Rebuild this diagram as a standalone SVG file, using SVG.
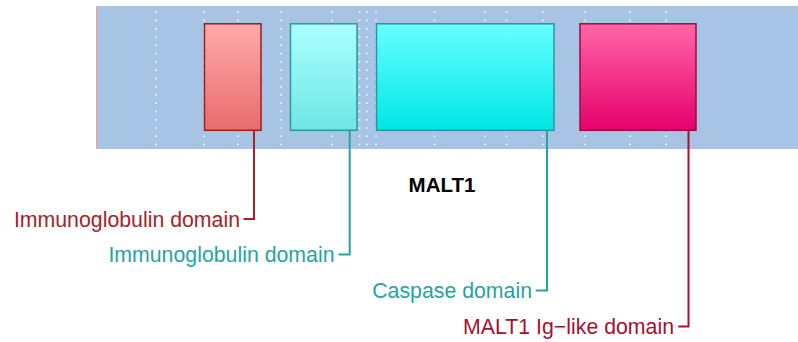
<svg xmlns="http://www.w3.org/2000/svg" width="798" height="342" viewBox="0 0 798 342">
<defs>
<linearGradient id="gRed" x1="0" y1="0" x2="0" y2="1"><stop offset="0" stop-color="#ffabab"/><stop offset="1" stop-color="#e86c6c"/></linearGradient>
<linearGradient id="gLc" x1="0" y1="0" x2="0" y2="1"><stop offset="0" stop-color="#abffff"/><stop offset="1" stop-color="#6ee6e6"/></linearGradient>
<linearGradient id="gCy" x1="0" y1="0" x2="0" y2="1"><stop offset="0" stop-color="#66ffff"/><stop offset="1" stop-color="#00e6e6"/></linearGradient>
<linearGradient id="gMg" x1="0" y1="0" x2="0" y2="1"><stop offset="0" stop-color="#ff66a6"/><stop offset="1" stop-color="#e6006c"/></linearGradient>
</defs>
<style>
.dot{stroke:#ffffff;stroke-width:1.5;stroke-dasharray:1.5 6.77;fill:none}
.box{stroke-width:1.5}
.lbl{font-family:"Liberation Sans",Arial,sans-serif;font-size:21.3px}
.con{fill:none;stroke-width:2}
</style>
<g id="track">
<rect x="96" y="6" width="702" height="143" fill="#a8c4e4"/>
<rect x="96" y="6" width="1.3" height="143" fill="#f2a0a0"/>
<g id="grid">
<line class="dot" x1="156" y1="11.5" x2="156" y2="146"/>
<line class="dot" x1="204" y1="11.5" x2="204" y2="146"/>
<line class="dot" x1="238" y1="11.5" x2="238" y2="146"/>
<line class="dot" x1="281" y1="11.5" x2="281" y2="146"/>
<line class="dot" x1="332" y1="11.5" x2="332" y2="146"/>
<line class="dot" x1="359.5" y1="11.5" x2="359.5" y2="146"/>
<line class="dot" x1="367" y1="11.5" x2="367" y2="146"/>
<line class="dot" x1="376" y1="11.5" x2="376" y2="146"/>
<line class="dot" x1="434.5" y1="11.5" x2="434.5" y2="146"/>
<line class="dot" x1="485" y1="11.5" x2="485" y2="146"/>
<line class="dot" x1="506.5" y1="11.5" x2="506.5" y2="146"/>
<line class="dot" x1="543" y1="11.5" x2="543" y2="146"/>
<line class="dot" x1="585" y1="11.5" x2="585" y2="146"/>
<line class="dot" x1="630" y1="11.5" x2="630" y2="146"/>
<line class="dot" x1="666" y1="11.5" x2="666" y2="146"/>
</g>
</g>
<g id="node-ig1"><rect class="box" x="204.5" y="23.8" width="56.5" height="106.5" fill="url(#gRed)" stroke="#9c1e1e"/></g>
<g id="node-ig2"><rect class="box" x="290.5" y="23.8" width="66.5" height="106.5" fill="url(#gLc)" stroke="#2a9a9a"/></g>
<g id="node-casp"><rect class="box" x="376.5" y="23.8" width="177.5" height="106.5" fill="url(#gCy)" stroke="#239a9a"/></g>
<g id="node-iglike"><rect class="box" x="580" y="23.8" width="116" height="106.5" fill="url(#gMg)" stroke="#9c0c3c"/></g>
<g id="title"><text x="442" y="191.5" text-anchor="middle" font-family="'Liberation Sans',Arial,sans-serif" font-size="20.5" font-weight="bold" fill="#000000">MALT1</text></g>
<g id="connectors">
<path class="con" d="M254 130.5 V219 H243.5" stroke="#a5232a"/>
<path class="con" d="M349.7 130.5 V254.5 H338.5" stroke="#27a3a3"/>
<path class="con" d="M547 130.5 V290.5 H535.7" stroke="#27a3a3"/>
<path class="con" d="M688.5 130.5 V326.5 H678.3" stroke="#a80f30"/>
</g>
<g id="labels">
<text class="lbl" x="240" y="226.5" text-anchor="end" fill="#a5232a">Immunoglobulin domain</text>
<text class="lbl" x="334.5" y="262" text-anchor="end" fill="#27a3a3">Immunoglobulin domain</text>
<text class="lbl" x="532" y="298" text-anchor="end" fill="#27a3a3">Caspase domain</text>
<text class="lbl" x="674" y="334" text-anchor="end" fill="#a80f30">MALT1 Ig−like domain</text>
</g>
</svg>
